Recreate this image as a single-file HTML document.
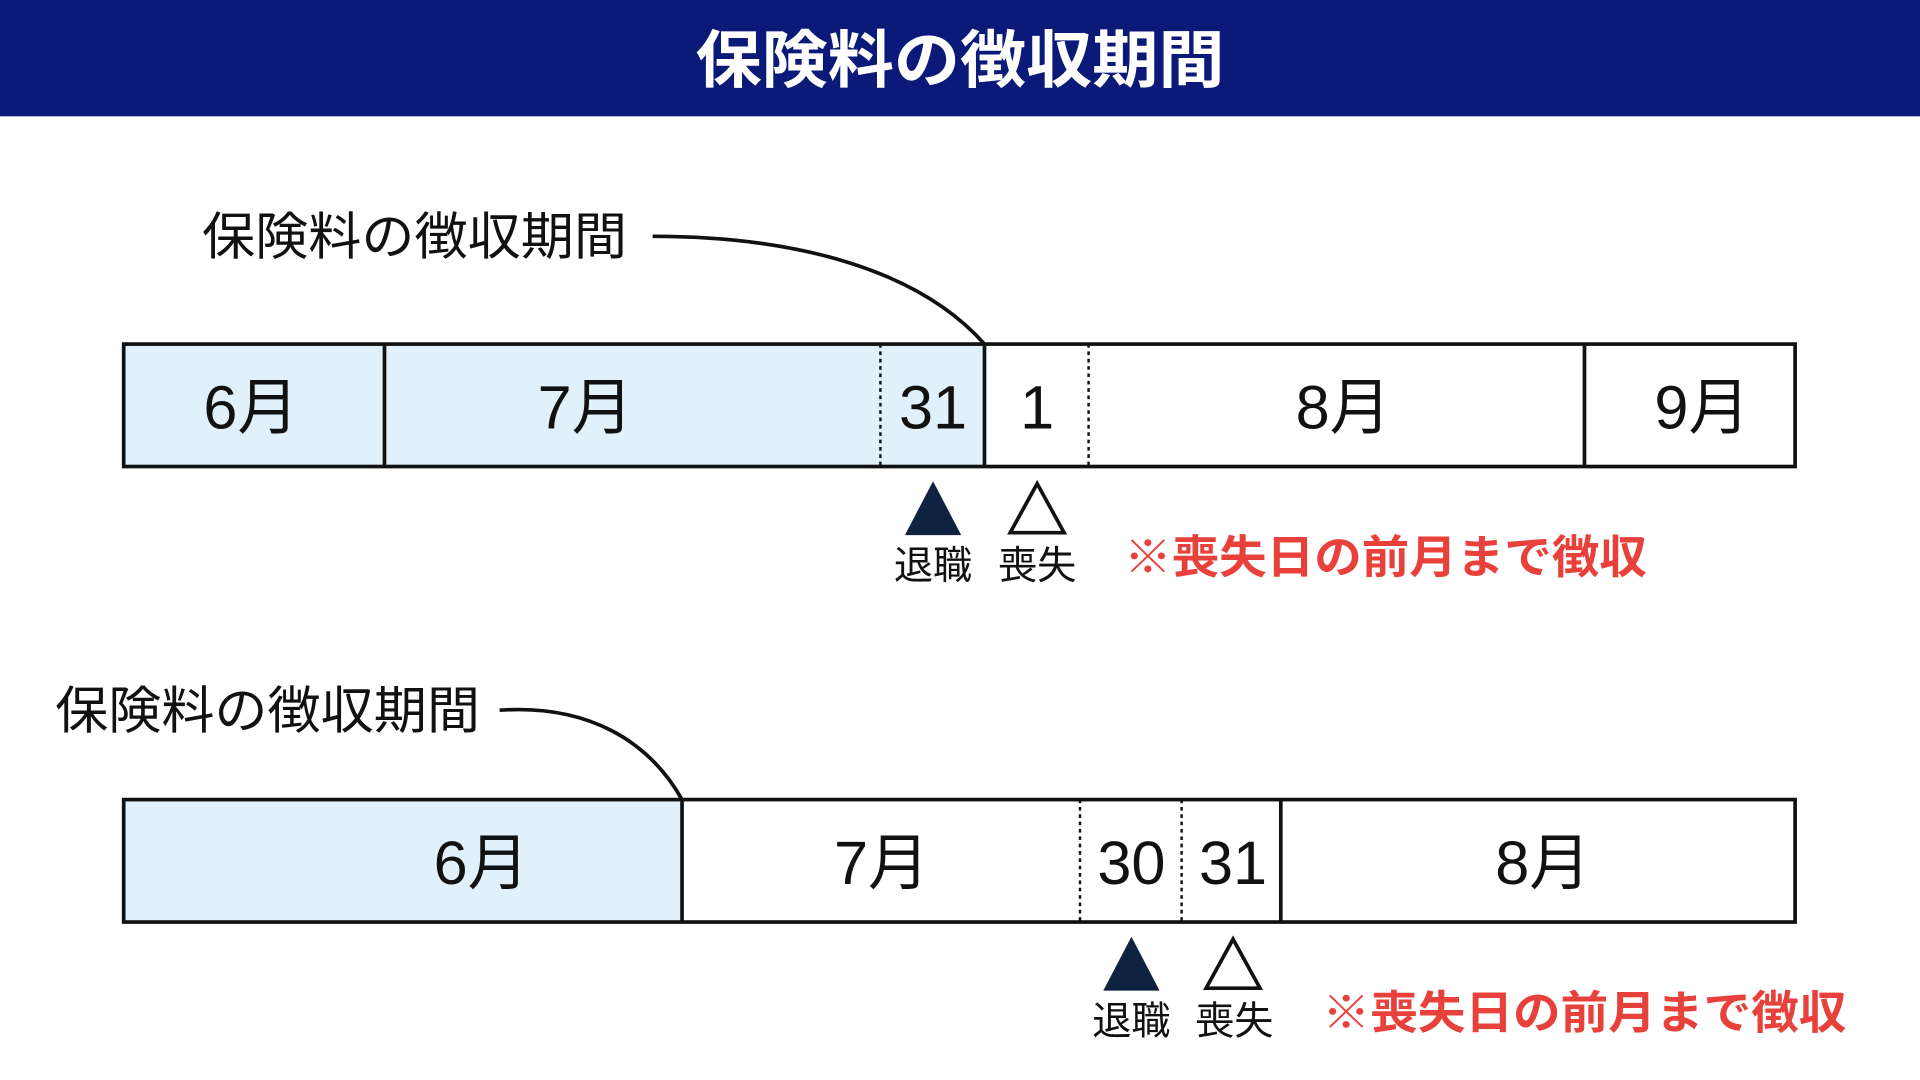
<!DOCTYPE html>
<html><head><meta charset="utf-8"><style>
html,body{margin:0;padding:0;background:#fff;width:1920px;height:1080px;overflow:hidden}
svg{display:block}
text{font-family:"Liberation Sans","Noto Sans CJK JP",sans-serif}
</style></head><body>
<svg width="1920" height="1080" viewBox="0 0 1568 882" preserveAspectRatio="none">
<rect x="0" y="0" width="1568" height="95" fill="#0b1a78"/>
<text x="568" y="67" font-size="51" font-weight="bold" fill="#fff" textLength="432" lengthAdjust="spacingAndGlyphs">保険料の徴収期間</text>

<!-- Diagram 1 -->
<rect x="101" y="281" width="703" height="100" fill="#e0f1fc"/>
<rect x="101" y="281" width="1365" height="100" fill="none" stroke="#111" stroke-width="3"/>
<line x1="314" y1="281" x2="314" y2="381" stroke="#111" stroke-width="3"/>
<line x1="719" y1="281" x2="719" y2="381" stroke="#111" stroke-width="2" stroke-dasharray="3,3"/>
<line x1="804" y1="281" x2="804" y2="381" stroke="#111" stroke-width="3"/>
<line x1="889" y1="281" x2="889" y2="381" stroke="#111" stroke-width="2" stroke-dasharray="3,3"/>
<line x1="1294" y1="281" x2="1294" y2="381" stroke="#111" stroke-width="3"/>
<g font-size="50" fill="#111" text-anchor="middle">
<text x="205" y="350">6月</text><text x="478" y="350">7月</text><text x="762" y="350">31</text>
<text x="847" y="350">1</text><text x="1097" y="350">8月</text><text x="1390" y="350">9月</text>
</g>
<polygon points="762,393 739,437 785,437" fill="#0f2340"/>
<polygon points="847,395 825,435 869,435" fill="none" stroke="#111" stroke-width="3"/>
<g font-size="32" fill="#111" text-anchor="middle">
<text x="762" y="473">退職</text><text x="847" y="473">喪失</text>
</g>
<text x="918" y="468" font-size="37" font-weight="bold" fill="#e8403a" textLength="427" lengthAdjust="spacingAndGlyphs">※喪失日の前月まで徴収</text>
<text x="165" y="208" font-size="42" fill="#111" textLength="347" lengthAdjust="spacingAndGlyphs">保険料の徴収期間</text>
<path d="M533,193 C650,193 750,220 804,281" fill="none" stroke="#111" stroke-width="3"/>

<!-- Diagram 2 -->
<rect x="101" y="653" width="456" height="100" fill="#e0f1fc"/>
<rect x="101" y="653" width="1365" height="100" fill="none" stroke="#111" stroke-width="3"/>
<line x1="557" y1="653" x2="557" y2="753" stroke="#111" stroke-width="3"/>
<line x1="882" y1="653" x2="882" y2="753" stroke="#111" stroke-width="2" stroke-dasharray="3,3"/>
<line x1="965" y1="653" x2="965" y2="753" stroke="#111" stroke-width="2" stroke-dasharray="3,3"/>
<line x1="1046" y1="653" x2="1046" y2="753" stroke="#111" stroke-width="3"/>
<g font-size="50" fill="#111" text-anchor="middle">
<text x="393" y="722">6月</text><text x="720" y="722">7月</text><text x="924" y="722">30</text>
<text x="1007" y="722">31</text><text x="1260" y="722">8月</text>
</g>
<polygon points="924,765 901,809 947,809" fill="#0f2340"/>
<polygon points="1007,767 985,807 1029,807" fill="none" stroke="#111" stroke-width="3"/>
<g font-size="32" fill="#111" text-anchor="middle">
<text x="924" y="845">退職</text><text x="1008" y="845">喪失</text>
</g>
<text x="1080" y="840" font-size="37" font-weight="bold" fill="#e8403a" textLength="428" lengthAdjust="spacingAndGlyphs">※喪失日の前月まで徴収</text>
<text x="45" y="595" font-size="42" fill="#111" textLength="347" lengthAdjust="spacingAndGlyphs">保険料の徴収期間</text>
<path d="M408,580 C480,575 530,605 557,653" fill="none" stroke="#111" stroke-width="3"/>
</svg>
</body></html>
